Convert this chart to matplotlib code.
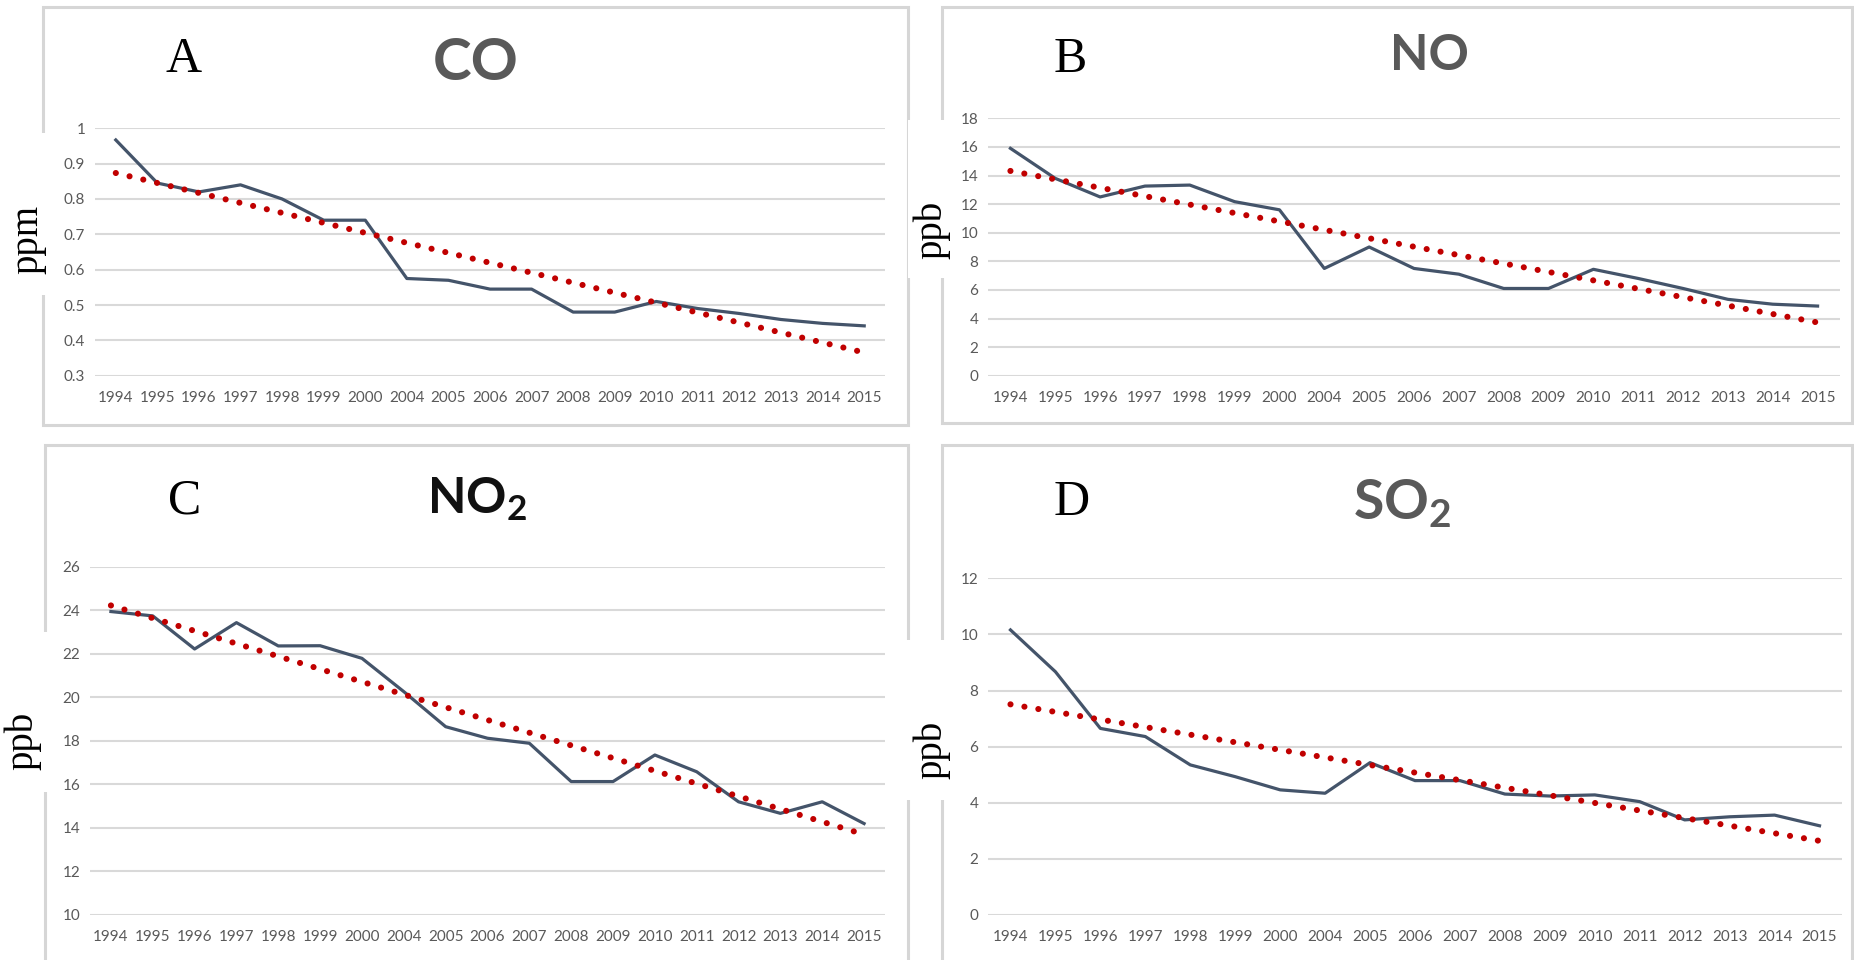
import numpy as np
import matplotlib
matplotlib.use("Agg")
import matplotlib.pyplot as plt
from matplotlib.patches import Rectangle

# ---------------- data ----------------
years = ["1994", "1995", "1996", "1997", "1998", "1999", "2000", "2004", "2005",
         "2006", "2007", "2008", "2009", "2010", "2011", "2012", "2013", "2014", "2015"]

co_ppm = [0.967, 0.845, 0.82, 0.84, 0.80, 0.74, 0.74, 0.575, 0.57,
          0.545, 0.545, 0.48, 0.48, 0.51, 0.49, 0.476, 0.459, 0.448, 0.441]
no_ppb = [15.9, 13.8, 12.5, 13.26, 13.33, 12.17, 11.6, 7.5, 9.0,
          7.5, 7.1, 6.1, 6.1, 7.44, 6.8, 6.1, 5.34, 5.0, 4.87]
no2_ppb = [23.94, 23.74, 22.22, 23.43, 22.36, 22.37, 21.79, 20.26, 18.65,
           18.12, 17.89, 16.13, 16.13, 17.35, 16.58, 15.2, 14.67, 15.2, 14.2]
so2_ppb = [10.16, 8.67, 6.65, 6.36, 5.35, 4.93, 4.46, 4.34, 5.43,
           4.79, 4.79, 4.31, 4.24, 4.28, 4.04, 3.39, 3.5, 3.56, 3.18]

co_ticks = [0.3, 0.4, 0.5, 0.6, 0.7, 0.8, 0.9, 1.0]
co_ticklabels = ["0.3", "0.4", "0.5", "0.6", "0.7", "0.8", "0.9", "1"]
no_ticks = [0, 2, 4, 6, 8, 10, 12, 14, 16, 18]
no2_ticks = [10, 12, 14, 16, 18, 20, 22, 24, 26]
so2_ticks = [0, 2, 4, 6, 8, 10, 12]

panel_letters = ["A", "B", "C", "D"]
panel_titles = ["CO", "NO", r"$\mathbf{NO_2}$", r"$\mathbf{SO_2}$"]
units = ["ppm", "ppb", "ppb", "ppb"]

# ---------------- style ----------------
W, H = 1854, 960
plt.rcParams["mathtext.fontset"] = "custom"
plt.rcParams["mathtext.bf"] = "Lato:bold"
plt.rcParams["mathtext.rm"] = "Lato"

fig = plt.figure(figsize=(W / 100, H / 100), dpi=100)
fig.patch.set_facecolor("white")

def fx(x):
    return x / W

def fy(y):
    return 1 - y / H

LINE_C = "#44546a"
TREND_C = "#c00000"
GRID_C = "#d9d9d9"
TICK_C = "#595959"
BORDER_C = "#d6d6d6"

# panel borders (x0, y0, x1, y1) in pixels
borders = [(43, 7, 908, 425), (942, 7, 1852, 423),
           (45, 445, 908, 975), (942, 445, 1852, 975)]
for (x0, y0, x1, y1) in borders:
    fig.patches.append(Rectangle((fx(x0), fy(y1)), fx(x1 - x0), (y1 - y0) / H,
                                 transform=fig.transFigure, fill=False,
                                 edgecolor=BORDER_C, lw=2.2, zorder=1))

# plot areas: left, top, right, bottom in pixels
areas = [(95, 128.3, 885, 375.7), (988, 118.3, 1840, 375.7),
         (90, 566.7, 885, 915), (988, 578.3, 1842, 915)]
series = [co_ppm, no_ppb, no2_ppb, so2_ppb]
yticks = [co_ticks, no_ticks, no2_ticks, so2_ticks]
ylims = [(0.3, 1.0), (0, 18), (10, 26), (0, 12)]

x = np.arange(len(years))
for i, (l, t, r, b) in enumerate(areas):
    ax = fig.add_axes([fx(l), fy(b), fx(r - l), (b - t) / H])
    ax.set_facecolor("none")
    vals = np.array(series[i])
    ax.plot(x, vals, color=LINE_C, lw=2.3, solid_joinstyle="round", zorder=3)
    k, c0 = np.polyfit(x, vals, 1)
    xt = np.array([x[0], x[-1]])
    ax.plot(xt, k * xt + c0, color=TREND_C, lw=4.4, dashes=(0.01, 2.3),
            dash_capstyle="round", zorder=4)
    ax.set_xlim(-0.5, len(years) - 0.5)
    ax.set_ylim(*ylims[i])
    ax.set_yticks(yticks[i])
    if i == 0:
        ax.set_yticklabels(co_ticklabels)
    ax.set_xticks(x)
    ax.set_xticklabels(years)
    ax.yaxis.grid(True, color=GRID_C, lw=1.5)
    ax.set_axisbelow(True)
    for s in ax.spines.values():
        s.set_visible(False)
    ax.tick_params(axis="both", length=0, colors=TICK_C, labelsize=11)
    ax.tick_params(axis="y", pad=7)
    ax.tick_params(axis="x", pad=11)
    for lab in ax.get_xticklabels() + ax.get_yticklabels():
        lab.set_fontfamily("Lato")
        lab.set_clip_on(False)

# white patches behind unit labels
whites = [(0, 133, 50, 295), (908, 120, 952, 278),
          (0, 632, 50, 792), (904, 640, 950, 800)]
for (x0, y0, x1, y1) in whites:
    fig.patches.append(Rectangle((fx(x0), fy(y1)), fx(x1 - x0), (y1 - y0) / H,
                                 transform=fig.transFigure, facecolor="white",
                                 edgecolor="none", zorder=2))

unit_pos = [(28, 239), (932, 230), (23, 741), (932, 750)]
for u, (ux, uy) in zip(units, unit_pos):
    fig.text(fx(ux), fy(uy), u, rotation=90, ha="center", va="center",
             fontsize=28, family="Liberation Serif", color="black", zorder=3)

letter_pos = [(184, 72), (1070, 72), (185, 513), (1072, 515)]
for L, (lx, ly) in zip(panel_letters, letter_pos):
    fig.text(fx(lx), fy(ly), L, ha="center", va="baseline",
             fontsize=36, family="Liberation Serif", color="black")

title_specs = [(476, 80, 42, TICK_C), (1429, 70, 36, TICK_C),
               (477, 513, 36, "#111111"), (1402, 519, 40, TICK_C)]
for T, (tx, ty, fs, col) in zip(panel_titles, title_specs):
    fig.text(fx(tx), fy(ty), T, ha="center", va="baseline", fontsize=fs,
             family="Lato", fontweight="bold", color=col)

fig.savefig("out.png", dpi=100, facecolor="white")
